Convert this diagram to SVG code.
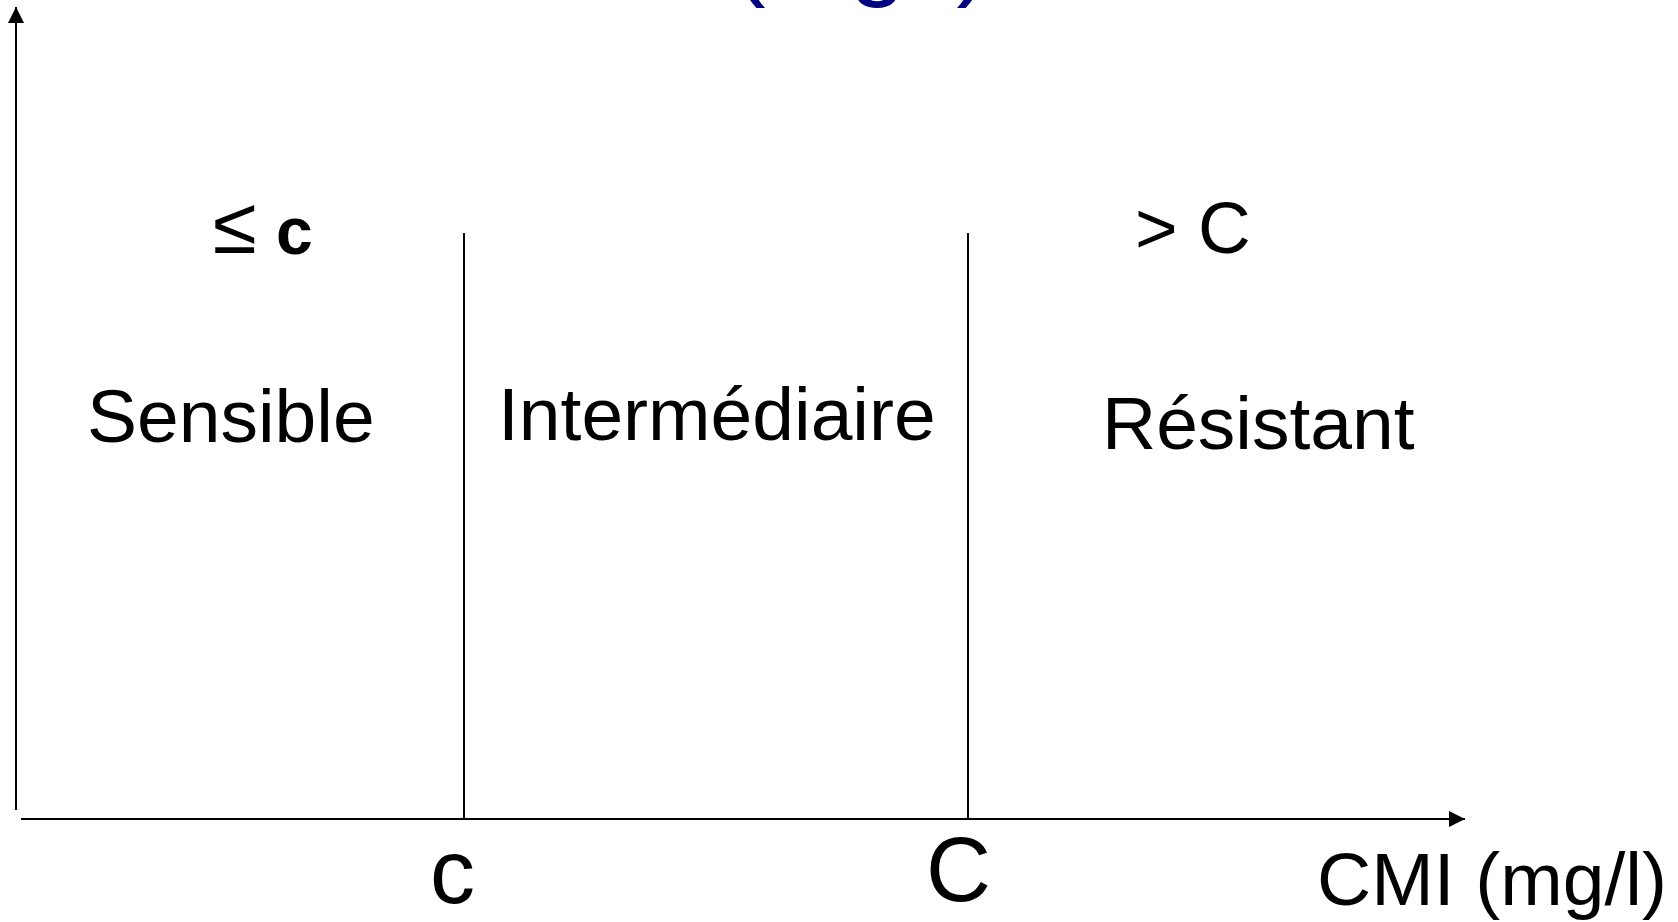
<svg xmlns="http://www.w3.org/2000/svg" width="1678" height="922" viewBox="0 0 1678 922">
  <style>
    .lbl { font-family: "Liberation Sans", Arial, sans-serif; fill: #000; }
    .axis { stroke: #000; stroke-width: 2; fill: none; }
    .bound { stroke: #000; stroke-width: 2; fill: none; }
  </style>
  <defs>
    <marker id="arrow" markerWidth="16" markerHeight="16" refX="16" refY="8" orient="auto" markerUnits="userSpaceOnUse">
      <path d="M0,0 L16,8 L0,16 Z" fill="#000"/>
    </marker>
  </defs>
  <rect width="1678" height="922" fill="#fff"/>

  <!-- title, mostly above the visible area -->
  <g id="title">
    <text class="lbl" x="732" y="-13" font-size="101" style="fill:#000080">(mg/l)</text>
  </g>

  <!-- axes and category boundaries -->
  <g id="connectors">
    <line class="axis" x1="16" y1="810" x2="16" y2="7" marker-end="url(#arrow)"/>
    <line class="axis" x1="21" y1="819" x2="1465" y2="819" marker-end="url(#arrow)"/>
    <line class="bound" x1="464" y1="233" x2="464" y2="819"/>
    <line class="bound" x1="968" y1="233" x2="968" y2="819"/>
  </g>

  <g id="sensible">
    <text class="lbl" x="213" y="253" font-size="80">≤</text>
    <text class="lbl" x="276" y="254" font-size="66" font-weight="bold">c</text>
    <text class="lbl" x="87" y="442" font-size="75">Sensible</text>
  </g>

  <g id="intermediaire">
    <text class="lbl" x="498" y="440" font-size="75">Intermédiaire</text>
  </g>

  <g id="resistant">
    <text class="lbl" x="1135" y="253" font-size="73">&gt; C</text>
    <text class="lbl" x="1102" y="449" font-size="75">Résistant</text>
  </g>

  <g id="ticks">
    <text class="lbl" x="430" y="903" font-size="90">c</text>
    <text class="lbl" x="926" y="901" font-size="90">C</text>
    <text class="lbl" x="1317" y="905" font-size="75">CMI (mg/l)</text>
  </g>
</svg>
